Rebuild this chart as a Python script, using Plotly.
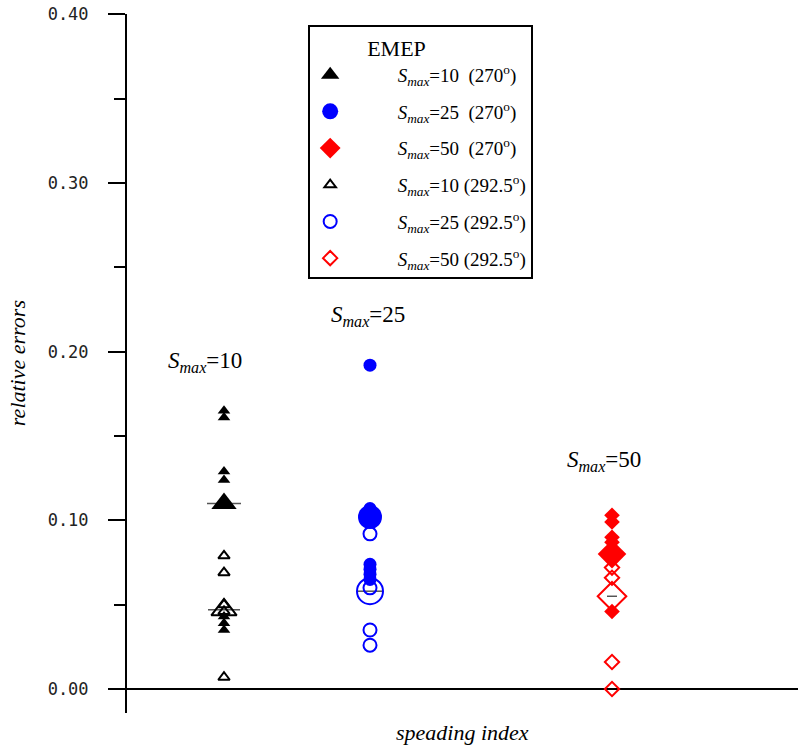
import plotly.graph_objects as go

# ---- data ----
groups = ["Smax=10", "Smax=25", "Smax=50"]
group_x = [0.97, 2.43, 4.85]          # position along the "speading index" axis

# 270 deg (filled markers)
s10_270 = [0.165, 0.161, 0.129, 0.124, 0.043, 0.039, 0.035]
s25_270 = [0.192, 0.107, 0.104, 0.101, 0.074, 0.071, 0.068, 0.065]
s50_270 = [0.103, 0.099, 0.090, 0.087, 0.046]
# 292.5 deg (open markers)
s10_2925 = [0.079, 0.069, 0.050, 0.046, 0.007]
s25_2925 = [0.092, 0.060, 0.035, 0.026]
s50_2925 = [0.072, 0.066, 0.016, 0.000]
# group means (large markers)
mean_270 = [0.110, 0.102, 0.080]
mean_2925 = [0.047, 0.058, 0.055]

yticks = [0.0, 0.1, 0.2, 0.3, 0.4]
yticklabels = ["0.00", "0.10", "0.20", "0.30", "0.40"]

SERIF = "Liberation Serif"
BLACK, BLUE, RED = "#000000", "#0000ff", "#ff0000"
PAD = "\u00a0" * 10

def smax(v, extra=""):
    return f"<i>S</i><sub><i>max</i></sub>={v}{extra}"

fig = go.Figure()

filled = [(s10_270, "triangle-up", BLACK, 11), (s25_270, "circle", BLUE, 13), (s50_270, "diamond", RED, 12)]
opened = [(s10_2925, "triangle-up-open", BLACK, 10), (s25_2925, "circle-open", BLUE, 13), (s50_2925, "diamond-open", RED, 11)]
big_f = [("triangle-up", BLACK, 22), ("circle", BLUE, 24), ("diamond", RED, 22)]
big_o = [("triangle-up-open", BLACK, 22), ("circle-open", BLUE, 26), ("diamond-open", RED, 22)]
line_half = [0.17, 0.0, 0.0]
line_half_o = [0.16, 0.13, 0.05]
labels_f = [PAD + smax(v, "\u00a0\u00a0(270<sup>o</sup>)") for v in (10, 25, 50)]
labels_o = [PAD + smax(v, " (292.5<sup>o</sup>)") for v in (10, 25, 50)]

# mean lines
for i, gx in enumerate(group_x):
    hw = line_half[i]
    if hw > 0:
        fig.add_trace(go.Scatter(x=[gx - hw, gx + hw], y=[mean_270[i]] * 2, mode="lines",
                                 line=dict(color="#555555", width=1.5), showlegend=False, hoverinfo="skip"))
    hw = line_half_o[i]
    fig.add_trace(go.Scatter(x=[gx - hw, gx + hw], y=[mean_2925[i]] * 2, mode="lines",
                             line=dict(color="#555555", width=1.5), showlegend=False, hoverinfo="skip"))

for i, gx in enumerate(group_x):
    vals, sym, col, sz = opened[i]
    fig.add_trace(go.Scatter(x=[gx] * len(vals), y=vals, mode="markers",
                             marker=dict(symbol=sym, color=col, size=sz, line=dict(color=col, width=2)),
                             name=labels_o[i], legendrank=4 + i, legendgroup=f"o{i}"))
    sym, col, sz = big_o[i]
    fig.add_trace(go.Scatter(x=[gx], y=[mean_2925[i]], mode="markers",
                             marker=dict(symbol=sym, color=col, size=sz, line=dict(color=col, width=2)),
                             showlegend=False))

for i, gx in enumerate(group_x):
    vals, sym, col, sz = filled[i]
    fig.add_trace(go.Scatter(x=[gx] * len(vals), y=vals, mode="markers",
                             marker=dict(symbol=sym, color=col, size=sz, line=dict(width=0)),
                             showlegend=False))
    sym, col, sz = big_f[i]
    fig.add_trace(go.Scatter(x=[gx], y=[mean_270[i]], mode="markers",
                             marker=dict(symbol=sym, color=col, size=sz, line=dict(width=0)),
                             name=labels_f[i], legendrank=1 + i, legendgroup=f"f{i}"))

# group labels
label_y = [0.194, 0.221, 0.135]
label_dx = [-0.19, -0.02, -0.08]
for i, gx in enumerate(group_x):
    fig.add_annotation(x=gx + label_dx[i], y=label_y[i], text=smax([10, 25, 50][i]), showarrow=False,
                       font=dict(family=SERIF, size=23, color="black"), xanchor="center", yanchor="middle")

fig.add_annotation(x=0.5, y=-0.0286, xref="paper", yref="paper", xanchor="center", yanchor="middle",
                   text="<i>speading index</i>", showarrow=False,
                   font=dict(family=SERIF, size=22, color="black"))
fig.add_annotation(x=-0.163, y=0.50, xref="paper", yref="paper", xanchor="center", yanchor="middle",
                   text="<i>relative errors</i>", textangle=-90, showarrow=False,
                   font=dict(family=SERIF, size=22, color="black"))

fig.update_layout(
    width=798, height=748,
    margin=dict(l=127, r=0, t=14, b=35),
    paper_bgcolor="white", plot_bgcolor="white",
    showlegend=True,
    legend=dict(x=0.27, y=0.984, xanchor="left", yanchor="top",
                bgcolor="white", bordercolor="black", borderwidth=2,
                font=dict(family=SERIF, size=19, color="black"),
                title=dict(text="\u00a0" * 10 + "EMEP",
                           font=dict(family=SERIF, size=22, color="black")),
                itemwidth=30, tracegroupgap=9),
    xaxis=dict(range=[0, 6.71], showgrid=False, zeroline=False, showline=False,
               showticklabels=False, ticks=""),
    yaxis=dict(range=[-0.0142, 0.4002], showgrid=False, zeroline=True, zerolinecolor="black",
               zerolinewidth=2, showline=True, linecolor="black", linewidth=2,
               tickvals=yticks, ticktext=yticklabels, ticks="outside", ticklen=17, tickwidth=2,
               tickcolor="black", ticklabelstandoff=16,
               tickfont=dict(family="DejaVu Sans Mono", size=17, color="#222222"),
               minor=dict(tickvals=[0.05, 0.15, 0.25, 0.35], ticks="outside", ticklen=11,
                          tickwidth=2, tickcolor="black")),
)

fig.write_html("out.html")
